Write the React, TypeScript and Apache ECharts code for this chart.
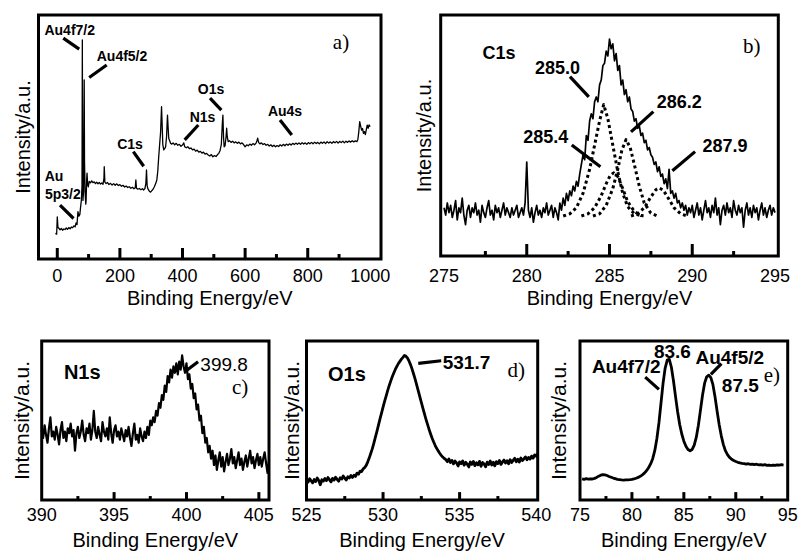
import React, { useEffect, useRef } from "react";
import * as echarts from "echarts";

// ---------------- data ----------------
// a) survey spectrum
const surveyTickLabels = [0, 200, 400, 600, 800, 1000];
const surveyMajorTicks = [0, 200, 400, 600, 800];
const surveyMinorTicks = [100, 300, 500, 700, 900];
const surveyPoints: [number, number][] = [
  [-6, 10.5], [-2, 10.2], [0, 17.3], [2, 13.0], [5, 12.6], [9, 12.0], [13, 12.5], [17, 11.8], [21, 12.3], [25, 12.1],
  [29, 12.7], [33, 12.2], [37, 12.9], [41, 12.4], [45, 13.1], [49, 12.8], [53, 13.6], [57, 13.2], [60, 14.8], [63, 14.1],
  [66, 19.4], [69, 17.6], [72, 18.2], [75, 22.0], [77, 24.2], [79, 30], [80, 89.8], [81, 40], [82, 24.0], [84, 28],
  [86, 73.4], [87, 40], [89, 27.0], [91, 22.5], [92, 24.0], [94, 33], [95, 35.2], [97, 30.5], [99, 29.6], [102, 31.8],
  [106, 31.2], [110, 32.0], [114, 31.3], [118, 31.6], [122, 30.9], [126, 31.5], [130, 30.8], [134, 31.4], [138, 30.7], [142, 31.2],
  [146, 30.6], [149, 33], [150, 37.8], [152, 31.5], [156, 30.9], [160, 31.4], [165, 30.5], [170, 31.0], [175, 30.3], [180, 30.9],
  [185, 30.2], [190, 30.8], [195, 30.1], [200, 30.5], [205, 29.8], [210, 30.2], [215, 29.5], [220, 29.9], [225, 29.3], [230, 29.6],
  [235, 29.0], [240, 29.4], [245, 28.8], [249, 29.2], [251, 32.4], [253, 29.0], [257, 28.6], [262, 28.9], [267, 28.4], [272, 28.8],
  [276, 28.3], [280, 28.9], [283, 31], [285, 36.5], [287, 30], [290, 28.6], [294, 27.8], [298, 27.4], [302, 28.0], [306, 28.6],
  [310, 29.6], [314, 30.8], [318, 32.4], [321, 36], [324, 41.9], [327, 47], [330, 52], [333, 62.4], [335, 55], [337, 47],
  [340, 44.7], [343, 45.2], [346, 46.0], [349, 50], [352, 59], [354, 54], [356, 49.5], [358, 48.8], [362, 47.4], [366, 47.1],
  [370, 47.6], [375, 46.8], [380, 47.4], [385, 46.6], [390, 47.0], [395, 46.2], [400, 46.7], [404, 47.6], [407, 46.0], [412, 45.6],
  [417, 46.0], [422, 45.2], [427, 45.5], [432, 44.7], [437, 45.0], [442, 44.2], [447, 44.6], [452, 43.8], [457, 44.1], [462, 43.4],
  [467, 43.8], [472, 43.0], [477, 43.3], [482, 42.6], [487, 42.2], [492, 42.8], [497, 41.9], [502, 42.4], [507, 42.0], [512, 42.8],
  [516, 43.3], [520, 44.5], [524, 47], [527, 55], [529, 59], [531, 50], [533, 46], [536, 46.5], [539, 50], [541, 53.6],
  [543, 50], [546, 48.1], [550, 48.5], [555, 47.8], [560, 48.3], [565, 47.6], [570, 48.0], [575, 47.4], [580, 47.9], [585, 47.2],
  [590, 47.6], [595, 46.9], [600, 46.0], [605, 46.8], [610, 46.4], [615, 47.1], [620, 46.6], [625, 47.3], [630, 46.8], [635, 47.5],
  [638, 48.6], [640, 49.5], [643, 47.8], [647, 47.2], [652, 47.6], [657, 46.9], [662, 47.3], [667, 46.6], [672, 47.0], [677, 46.3],
  [682, 46.8], [687, 46.1], [692, 46.6], [697, 46.0], [702, 46.5], [707, 46.1], [712, 46.8], [717, 46.3], [722, 47.0], [727, 46.4],
  [732, 47.1], [737, 46.6], [742, 47.2], [747, 46.7], [752, 47.4], [757, 46.9], [762, 47.5], [767, 47.0], [772, 47.6], [777, 47.0],
  [782, 47.7], [787, 47.1], [792, 47.6], [797, 47.0], [802, 47.7], [807, 47.2], [812, 47.8], [817, 47.2], [822, 47.9], [827, 47.3],
  [832, 47.8], [837, 47.2], [842, 47.9], [847, 47.4], [852, 48.0], [857, 47.3], [862, 48.1], [867, 47.5], [872, 48.0], [877, 47.4],
  [882, 48.1], [887, 47.6], [892, 48.2], [897, 47.5], [902, 48.2], [907, 47.7], [912, 48.3], [917, 47.6], [922, 48.3], [927, 47.8],
  [932, 48.4], [937, 47.9], [942, 48.5], [947, 48.0], [952, 48.4], [957, 48.1], [960, 49], [963, 52], [966, 56.3], [969, 54.5],
  [972, 52.8], [975, 53.5], [978, 51.5], [981, 52.2], [984, 51.0], [987, 53], [990, 54.9], [993, 53.6], [996, 55.0], [999, 54.2],
];

// b) C1s
const c1sTickLabels = [275, 280, 285, 290, 295];
const c1sMajorTicks = [280, 285, 290];
const c1sMinorTicks = [277.5, 282.5, 287.5, 292.5];
const c1sStart = 275.0;
const c1sStep = 0.1;
const c1sValues = [
  20, 17, 22, 18, 21, 16, 19, 23, 15, 20, 18, 24, 17, 13, 19, 21, 16, 20, 18, 22,
  17, 19, 14, 21, 18, 16, 20, 23, 17, 19, 15, 21, 18, 20, 16, 19, 22, 17, 20, 18,
  16, 20, 17, 19, 21, 16, 18, 20, 17, 22,
  39, 19, 16, 20, 14, 18, 21, 17, 19, 16, 20, 18, 22, 17, 19, 21, 16, 20, 18, 15,
  22, 19, 24, 21, 26, 23, 27, 25, 29, 27, 31, 29, 34, 38, 42, 40, 50, 48, 56, 59,
  57, 64, 66, 64, 71, 73, 79, 80, 85, 83, 90, 86, 88, 81, 84, 77, 79, 71, 73, 67,
  69, 64, 66, 61, 60, 56, 57, 53, 54, 50, 51, 47, 48, 44, 45, 42, 41, 38, 39, 35,
  37, 33, 34, 30, 32, 28, 36, 26, 27, 24, 26, 22, 23, 20, 22, 19, 21, 17, 20, 18,
  21, 16, 19, 22, 17, 20, 15, 19, 23, 18, 20, 16, 21, 18, 24, 17, 20, 13, 19, 21,
  17, 22, 18, 20, 16, 23, 19, 17, 21, 18, 20, 12, 19, 22, 17, 20, 16, 21, 18, 20,
  15, 19, 22, 17, 20, 16, 19, 21, 17, 20, 18,
];
const c1sFit2850: [number, number][] = [
  [282.2, 16.6], [282.6, 17.5], [283.0, 20], [283.4, 26], [283.8, 36], [284.1, 46], [284.4, 56], [284.65, 62.8],
  [284.9, 57], [285.2, 46], [285.5, 35], [285.8, 26], [286.1, 20.5], [286.5, 17.5], [287.0, 16.6],
];
const c1sFit2854: [number, number][] = [
  [283.3, 16.6], [283.7, 17.5], [284.1, 20], [284.5, 25], [284.8, 30], [285.05, 33.5], [285.25, 34.5],
  [285.5, 33], [285.8, 28], [286.1, 22.5], [286.5, 18.5], [286.9, 16.8], [287.2, 16.6],
];
const c1sFit2862: [number, number][] = [
  [284.0, 16.6], [284.4, 17.5], [284.8, 21], [285.2, 28], [285.5, 36], [285.75, 44], [286.0, 48.3],
  [286.25, 45], [286.5, 38], [286.8, 29], [287.1, 22], [287.5, 17.8], [287.9, 16.6],
];
const c1sFit2879: [number, number][] = [
  [286.3, 16.6], [286.7, 17.5], [287.1, 20], [287.5, 24.5], [287.8, 27.5], [288.0, 28.3],
  [288.25, 27.3], [288.6, 23.5], [288.9, 20], [289.3, 17.5], [289.7, 16.6],
];

// c) N1s
const n1sTickLabels = [390, 395, 400, 405];
const n1sMajorTicks = [395, 400, 405];
const n1sMinorTicks = [392.5, 397.5, 402.5];
const n1sStart = 390.0;
const n1sStep = 0.1;
const n1sValues = [
  44, 39, 47, 41, 36, 45, 52, 40, 43, 38, 46, 41, 35, 44, 49, 39, 43, 37, 45, 42,
  48, 40, 44, 31, 42, 46, 39, 43, 50, 41, 37, 45, 42, 48, 38, 44, 56, 43, 39, 46,
  41, 37, 49, 43, 40, 45, 38, 52, 42, 36, 44, 47, 40, 43, 38, 45, 41, 37, 44, 40,
  46, 39, 34, 42, 48, 38, 41, 36, 45, 40, 37, 43, 39, 46, 41, 50,
  47, 52, 49, 56, 53, 61, 58, 66, 63, 72, 68, 78, 74, 82, 77, 84, 80, 86, 79, 87, 82, 91, 84, 80,
  86, 76, 79, 70, 73, 64, 67, 57, 60, 50, 53, 42, 46, 36, 39, 30, 34, 26, 31,
  22, 28, 19, 25, 30, 21, 27, 18, 24, 29, 22, 26, 32, 23, 27, 20, 25, 30, 22, 26,
  19, 24, 28, 21, 26, 31, 23, 27, 20, 25, 29, 22, 27, 21, 26, 30, 23, 17, 25,
];

// d) O1s
const o1sTickLabels = [525, 530, 535, 540];
const o1sMajorTicks = [530, 535];
const o1sMinorTicks = [527.5, 532.5, 537.5];
const o1sStart = 525.0;
const o1sStep = 0.1;
const o1sValues = [
  12.5, 11.2, 13.4, 12.1, 10.8, 12.9, 11.6, 13.8, 12.3, 9.6, 12.7, 11.9, 13.5, 12.2, 14.1, 12.8, 11.4, 13.6, 12.5, 14.3,
  13.0, 11.8, 14.0, 13.2, 15.1, 13.7, 12.6, 14.6, 13.9, 15.4, 14.2,
  15.6, 14.8, 16.9, 16.2, 18.1, 17.9, 19.6, 20.4,
  21.8, 24.0, 26.5, 29.4, 32.3, 35.8, 39.6, 43.2, 47.1, 51.0, 54.6, 58.4, 62.0, 65.4, 68.8, 71.9, 74.8, 77.5, 79.9, 82.1,
  84.0, 85.8, 87.2, 88.6, 89.7, 90.9,
  90.4, 89.2, 87.3, 85.0, 82.2, 79.1, 75.8, 72.3, 68.7, 65.0, 61.4, 57.8, 54.3, 50.9, 47.7, 44.6, 41.7, 39.0, 36.6, 34.4,
  32.5, 30.9, 29.4, 28.1, 27.0, 26.1,
  25.4, 24.1, 25.8, 23.6, 24.9, 22.7, 24.5, 23.3, 21.4, 24.0, 22.8, 24.6, 21.9, 23.7, 22.5, 20.8, 23.9, 22.4, 24.2, 21.6,
  23.4, 22.1, 24.3, 21.2, 23.6, 22.6, 20.9, 23.8, 22.3, 24.5, 22.0, 23.7, 21.5, 24.1, 22.9, 24.8, 22.4, 23.9, 25.1, 23.2,
  24.7, 22.8, 25.3, 23.6, 24.9, 26.2, 24.1, 25.6, 23.9, 26.4, 24.8, 25.9, 27.1, 25.3, 26.8, 25.7, 27.6, 26.3, 28.4, 27.5,
  29.2,
];

// e) Au4f
const au4fTickLabels = [75, 80, 85, 90, 95];
const au4fMajorTicks = [80, 85, 90];
const au4fMinorTicks = [77.5, 82.5, 87.5, 92.5];
const au4fStart = 75.2;
const au4fStep = 0.2;
const au4fValues = [
  13.3, 13.0, 13.4, 13.1, 13.3, 13.2, 13.6, 14.2, 15.0, 15.6, 15.9, 15.8, 15.4, 14.8, 14.3, 13.8, 13.4, 13.0, 12.8, 12.6,
  12.5, 12.6, 12.7, 12.8, 13.0,
  13.3, 13.7, 14.2, 14.9, 15.8, 16.9, 18.4, 20.3, 22.7, 26.0, 31.0, 38.5, 48.5, 61.0, 73.5, 83.0, 88.0, 88.5, 83.5, 75.0,
  65.0, 55.5, 47.5, 41.5, 37.0,
  33.8, 31.8, 31.0, 31.8, 34.5, 39.5, 47.0, 56.5, 66.0, 73.5, 77.5, 78.5, 77.0, 72.5, 65.0, 56.0, 47.5, 40.5, 35.0, 31.0,
  28.5, 26.8, 25.6, 24.8, 24.2,
  23.7, 23.3, 23.0, 22.9, 22.6, 22.8, 22.4, 22.6, 22.2, 22.5, 22.1, 22.3, 21.9, 22.2, 21.8, 22.0, 21.7, 22.0, 21.8, 22.1,
  21.9, 22.2, 22.0,
];

// annotations (data coordinates): [text, x, y]
const surveyNotes: [string, number, number][] = [
  ["Au4f7/2", 39.7, 93.7], ["Au4f5/2", 206.7, 83.2], ["O1s", 491, 69.7], ["N1s", 463.8, 58],
  ["Au4s", 727.4, 60.7], ["C1s", 232.3, 47.1], ["Au", -10.5, 34], ["5p3/2", 17.9, 26.6],
];
const surveyArrows: number[][] = [
  [19.2, 90.5, 70, 86], [157.8, 79.5, 102, 74.4], [487.8, 65.9, 524, 61], [450.4, 54.9, 407, 48.8],
  [711.4, 57, 749, 50.8], [242.8, 44, 276, 38], [8.7, 22.1, 52, 16.6],
];
const c1sNotes: [string, number, number][] = [
  ["C1s", 278.33, 84.1], ["285.0", 281.86, 77.9], ["286.2", 289.21, 63.7], ["285.4", 281.15, 49.2], ["287.9", 291.98, 45.7],
];
const c1sArrows: number[][] = [
  [282.61, 74.4, 283.75, 66], [287.65, 59.9, 286.3, 51.5], [282.72, 46.1, 284.45, 37], [290.17, 43.3, 288.8, 35.4],
];
const n1sNotes: [string, number, number][] = [["N1s", 392.8, 80.7], ["399.8", 402.6, 85.5]];
const n1sArrows: number[][] = [[400.8, 87, 400.0, 81.5]];
const o1sNotes: [string, number, number][] = [["O1s", 527.64, 79.4], ["531.7", 535.45, 86.7]];
const o1sArrows: number[][] = [[533.8, 87.6, 532.3, 85.9]];
const au4fNotes: [string, number, number][] = [
  ["Au4f7/2", 79.45, 84.2], ["83.6", 83.9, 93.7], ["Au4f5/2", 89.42, 89.5], ["87.5", 90.44, 72.1],
];
const au4fArrows: number[][] = [[81.28, 77.3, 82.6, 69.6], [88.62, 85.7, 87.6, 79]];
const panelLetters: [string, number, number][] = [
  ["a)", 906.2, 88.9], ["b)", 293.59, 87.2], ["c)", 403.7, 71], ["d)", 538.7, 81.5], ["e)", 93.47, 78.4],
];

// ---------------- chart ----------------
const SANS = "'Liberation Sans', Arial, Helvetica, sans-serif";
const SERIF = "'Liberation Serif', 'Times New Roman', serif";

function uniform(start: number, step: number, values: number[]): [number, number][] {
  return values.map((v, i) => [Math.round((start + i * step) * 1000) / 1000, v]);
}

type NoteStyle = { size: number; weight: string };

interface Panel {
  grid: { left: number; top: number; width: number; height: number };
  xMin: number; xMax: number;
  labels: number[]; majors: number[]; minors: number[];
  majorLen: number; minorLen: number; labelMargin: number; nameGap: number;
  yNameGap: number; yNameSize: number;
  lines: { data: [number, number][]; width: number; dotted?: boolean }[];
  notes: [string, number, number][];
  noteStyles: NoteStyle[];
  arrows: number[][];
  letter: [string, number, number];
}

function buildPanels(): Panel[] {
  const b14 = { size: 14, weight: "bold" };
  const b18 = { size: 18, weight: "bold" };
  const b19 = { size: 19, weight: "bold" };
  const b20 = { size: 20, weight: "bold" };
  const n19 = { size: 19, weight: "normal" };
  return [
    {
      grid: { left: 38.5, top: 15, width: 342.5, height: 244 },
      xMin: -60, xMax: 1034, labels: surveyTickLabels, majors: surveyMajorTicks, minors: surveyMinorTicks,
      majorLen: 11, minorLen: 5, labelMargin: 8, nameGap: 29, yNameGap: 6, yNameSize: 20,
      lines: [{ data: surveyPoints, width: 1.3 }],
      notes: surveyNotes, noteStyles: surveyNotes.map(() => b14), arrows: surveyArrows, letter: panelLetters[0],
    },
    {
      grid: { left: 440.7, top: 15, width: 337.6, height: 241 },
      xMin: 274.8, xMax: 295.2, labels: c1sTickLabels, majors: c1sMajorTicks, minors: c1sMinorTicks,
      majorLen: 12, minorLen: 5, labelMargin: 11, nameGap: 32, yNameGap: 7, yNameSize: 20,
      lines: [
        { data: uniform(c1sStart, c1sStep, c1sValues), width: 1.7 },
        { data: c1sFit2850, width: 3, dotted: true },
        { data: c1sFit2854, width: 3, dotted: true },
        { data: c1sFit2862, width: 3, dotted: true },
        { data: c1sFit2879, width: 3, dotted: true },
      ],
      notes: c1sNotes, noteStyles: c1sNotes.map(() => b18), arrows: c1sArrows, letter: panelLetters[1],
    },
    {
      grid: { left: 41.7, top: 341, width: 227.3, height: 161 },
      xMin: 390, xMax: 405.7, labels: n1sTickLabels, majors: n1sMajorTicks, minors: n1sMinorTicks,
      majorLen: 8, minorLen: 4, labelMargin: 6, nameGap: 30, yNameGap: 10, yNameSize: 21,
      lines: [{ data: uniform(n1sStart, n1sStep, n1sValues), width: 2.2 }],
      notes: n1sNotes, noteStyles: [b20, n19], arrows: n1sArrows, letter: panelLetters[2],
    },
    {
      grid: { left: 306.5, top: 341, width: 231.2, height: 161 },
      xMin: 525, xMax: 540.1, labels: o1sTickLabels, majors: o1sMajorTicks, minors: o1sMinorTicks,
      majorLen: 8, minorLen: 4, labelMargin: 6, nameGap: 30, yNameGap: 5, yNameSize: 21,
      lines: [{ data: uniform(o1sStart, o1sStep, o1sValues), width: 2.8 }],
      notes: o1sNotes, noteStyles: [b20, b19], arrows: o1sArrows, letter: panelLetters[3],
    },
    {
      grid: { left: 580, top: 341, width: 207.7, height: 161 },
      xMin: 75, xMax: 95, labels: au4fTickLabels, majors: au4fMajorTicks, minors: au4fMinorTicks,
      majorLen: 8, minorLen: 4, labelMargin: 6, nameGap: 30, yNameGap: 11, yNameSize: 21,
      lines: [{ data: uniform(au4fStart, au4fStep, au4fValues), width: 2.8 }],
      notes: au4fNotes, noteStyles: au4fNotes.map(() => b19), arrows: au4fArrows, letter: panelLetters[4],
    },
  ];
}

function buildOption(panels: Panel[]) {
  const grid: any[] = [];
  const xAxis: any[] = [];
  const yAxis: any[] = [];
  const series: any[] = [];

  panels.forEach((p, i) => {
    grid.push({ ...p.grid, show: true, borderColor: "#000", borderWidth: 3, backgroundColor: "transparent" });
    xAxis.push({
      type: "value", gridIndex: i, min: p.xMin, max: p.xMax, position: "bottom",
      axisLine: { show: false },
      axisTick: { show: false },
      axisLabel: {
        show: true, customValues: p.labels, color: "#000", fontSize: 18, fontFamily: SANS, margin: p.labelMargin,
        formatter: (v: number) => String(v),
      },
      splitLine: { show: false },
      name: "Binding Energy/eV", nameLocation: "middle", nameGap: p.nameGap,
      nameTextStyle: { color: "#000", fontSize: 20, fontFamily: SANS },
    });
    yAxis.push({
      type: "value", gridIndex: i, min: 0, max: 100,
      axisLine: { show: false }, axisTick: { show: false }, axisLabel: { show: false }, splitLine: { show: false },
      name: "Intensity/a.u.", nameLocation: "middle", nameGap: p.yNameGap, nameRotate: 90,
      nameTextStyle: { color: "#000", fontSize: p.yNameSize, fontFamily: SANS },
    });

    p.lines.forEach((l) => {
      series.push({
        type: "line", xAxisIndex: i, yAxisIndex: i, data: l.data, showSymbol: false, symbol: "none",
        silent: true, smooth: false,
        lineStyle: { color: "#000", width: l.width, type: l.dotted ? "dotted" : "solid", join: "round" },
      });
    });

    // inward tick marks: each one a short vertical segment drawn as a line series
    const majorUnits = (p.majorLen / p.grid.height) * 100;
    const minorUnits = (p.minorLen / p.grid.height) * 100;
    const tickSeg = (v: number, len: number) => [[v, 0], [v, len]];
    [...p.majors.map((v) => tickSeg(v, majorUnits)), ...p.minors.map((v) => tickSeg(v, minorUnits))].forEach((seg) => {
      series.push({
        type: "line", xAxisIndex: i, yAxisIndex: i, data: seg, showSymbol: false, symbol: "none",
        silent: true, clip: false, z: 5,
        lineStyle: { color: "#000", width: 3, type: "solid", cap: "butt" },
      });
    });

    const noteData = p.notes.map((n, k) => ({
      name: n[0], value: [n[1], n[2]],
      label: { color: "#000", opacity: 1, fontSize: p.noteStyles[k].size, fontWeight: p.noteStyles[k].weight, fontFamily: SANS },
    }));
    noteData.push({
      name: p.letter[0], value: [p.letter[1], p.letter[2]],
      label: { color: "#000", opacity: 1, fontSize: 21, fontWeight: "normal", fontFamily: SERIF },
    });

    series.push({
      type: "scatter", xAxisIndex: i, yAxisIndex: i, symbolSize: 1, silent: true,
      itemStyle: { color: "transparent", opacity: 1 },
      label: { show: true, position: "inside", color: "#000", opacity: 1, formatter: (q: any) => q.name },
      data: noteData,
      markLine: {
        silent: true, symbol: ["none", "arrow"], symbolSize: [0, 15], animation: false,
        label: { show: false }, emphasis: { disabled: true },
        lineStyle: { color: "#000", width: 3.2, type: "solid", opacity: 1 },
        data: p.arrows.map((a) => [{ coord: [a[0], a[1]] }, { coord: [a[2], a[3]] }]),
      },
    });
  });

  return { animation: false, backgroundColor: "#fff", grid, xAxis, yAxis, series };
}

export default function App() {
  const ref = useRef<HTMLDivElement>(null);
  useEffect(() => {
    document.body.style.margin = "0";
    if (!ref.current) return;
    const chart = echarts.init(ref.current, undefined, { renderer: "svg" });
    const panels = buildPanels();
    chart.setOption(buildOption(panels) as any);
    return () => chart.dispose();
  }, []);
  return <div ref={ref} style={{ width: 807, height: 551 }} />;
}
